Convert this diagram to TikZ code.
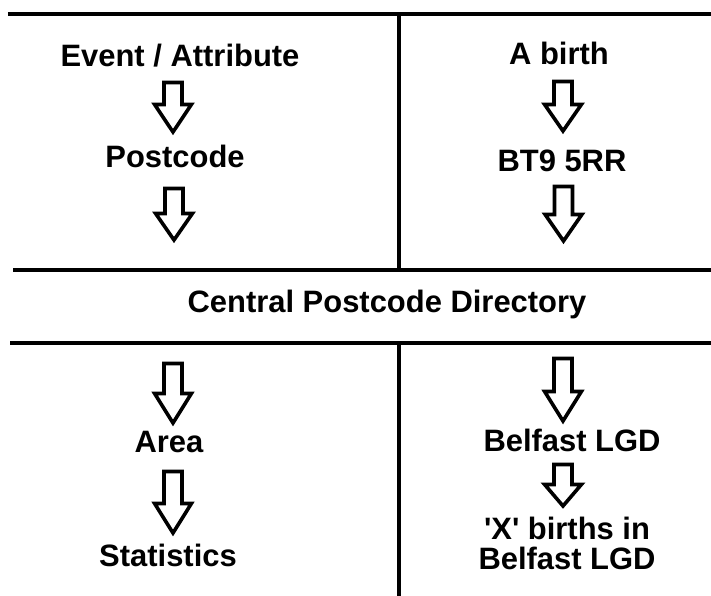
\documentclass[tikz,border=0pt]{standalone}
\usepackage{fontspec}
\setmainfont{Liberation Sans}
\usepackage{tikz}

\tikzset{
	lbl/.style={font=\fontsize{22}{22}\selectfont\bfseries, anchor=base, inner sep=0pt},
	divider/.style={line width=1mm},
	arrowline/.style={line width=0.9mm, line join=miter}
}
% hollow block arrow: {x}{top}{shoulder}{tip}
\newcommand{\hollowarr}[4]{\draw[arrowline] (#1-0.225,#2)--(#1+0.225,#2)--(#1+0.225,#3)--(#1+0.46,#3)--(#1,#4)--(#1-0.46,#3)--(#1-0.225,#3)--cycle;}

\begin{document}
\begin{tikzpicture}
	\useasboundingbox (0,0) rectangle (17.775,14.9);
	
	%dividers
	\draw[divider] (0.2,14.54)--(17.9,14.54);		%top
	\draw[divider] (0.33,8.15)--(17.9,8.15);		%above directory
	\draw[divider] (0.25,6.325)--(17.9,6.325);		%below directory
	\draw[divider] (9.98,14.54)--(9.98,8.15);		%upper split
	\draw[divider] (9.98,6.325)--(9.98,-0.1);		%lower split
	
	%left column
	\node[lbl] (event) at (4.5,13.225) {Event / Attribute};
	\node[lbl] (pcode) at (4.375,10.7) {Postcode};
	\node[lbl] (area) at (4.225,3.575) {Area};
	\node[lbl] (stats) at (4.2,0.725) {Statistics};
	\hollowarr{4.325}{12.8375}{12.2875}{11.6}
	\hollowarr{4.35}{10.1875}{9.5625}{8.9}
	\hollowarr{4.325}{5.8125}{5.0625}{4.325}
	\hollowarr{4.325}{3.1125}{2.3125}{1.575}
	
	%right column
	\node[lbl] (birth) at (13.975,13.275) {A birth};
	\node[lbl] (bt9) at (14.05,10.6) {BT9 5RR};
	\node[lbl] (lgd) at (14.3,3.6) {Belfast LGD};
	\node[lbl,align=center] (xbirths) at (14.175,0.65) {\textquotesingle X\textquotesingle{} births in\\Belfast LGD};
	\hollowarr{14.075}{12.8625}{12.2875}{11.625}
	\hollowarr{14.0875}{10.2375}{9.5375}{8.875}
	\hollowarr{14.075}{5.9375}{5.1125}{4.375}
	\hollowarr{14.075}{3.2875}{2.7875}{2.25}
	
	%middle
	\node[lbl] (cpd) at (9.675,7.075) {Central Postcode Directory};
\end{tikzpicture}
\end{document}
